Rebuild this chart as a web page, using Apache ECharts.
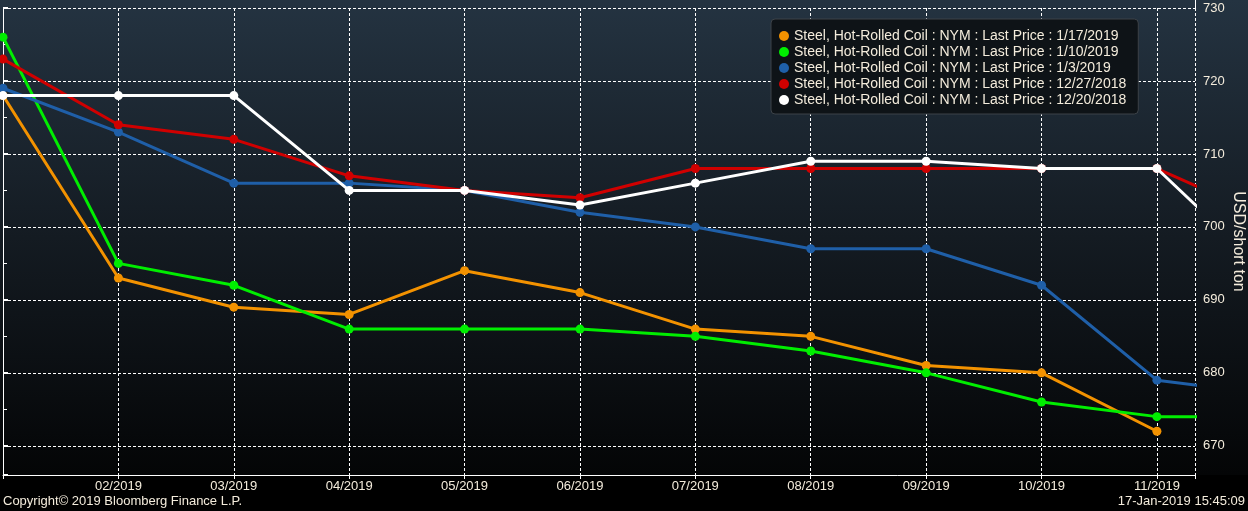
<!DOCTYPE html>
<html><head><meta charset="utf-8">
<script src="https://cdn.jsdelivr.net/npm/echarts@6/dist/echarts.min.js"></script>
<style>html,body{margin:0;padding:0;background:#000;}#c{width:1248px;height:511px;}</style>
</head><body><div id="c"></div>
<script>
// Month index 0 = 01/2019 ... 10 = 11/2019, 11 = 12/2019 (partially visible)
const months = ["01/2019","02/2019","03/2019","04/2019","05/2019","06/2019","07/2019","08/2019","09/2019","10/2019","11/2019","12/2019"];
const seriesNames = [
  "Steel, Hot-Rolled Coil : NYM : Last Price : 1/17/2019",
  "Steel, Hot-Rolled Coil : NYM : Last Price : 1/10/2019",
  "Steel, Hot-Rolled Coil : NYM : Last Price : 1/3/2019",
  "Steel, Hot-Rolled Coil : NYM : Last Price : 12/27/2018",
  "Steel, Hot-Rolled Coil : NYM : Last Price : 12/20/2018"
];
const seriesColors = ["#f39200", "#00ee00", "#1f5fa8", "#d00000", "#ffffff"];
const curve_0117 = [718, 693, 689, 688, 694, 691, 686, 685, 681, 680, 672];
const curve_0110 = [726, 695, 692, 686, 686, 686, 685, 683, 680, 676, 674, 674];
const curve_0103 = [719, 713, 706, 706, 705, 702, 700, 697, 697, 692, 679, 677];
const curve_1227 = [723, 714, 712, 707, 705, 704, 708, 708, 708, 708, 708, 701];
const curve_1220 = [718, 718, 718, 705, 705, 703, 706, 709, 709, 708, 708, 693];
const curves = [curve_0117, curve_0110, curve_0103, curve_1227, curve_1220];
const yTicks = [670, 680, 690, 700, 710, 720, 730];

const font = "Liberation Sans";
const textColor = '#f4ecdc';
const chart = echarts.init(document.getElementById('c'), null, {renderer: 'canvas'});
const option = {
  backgroundColor: '#000000',
  animation: false,
  textStyle: {fontFamily: font},
  graphic: [
    {type: 'rect', z: -10, silent: true, shape: {x: 0, y: 0, width: 1248, height: 475},
     style: {fill: new echarts.graphic.LinearGradient(0, 0, 0, 1, [
       {offset: 0, color: '#243341'}, {offset: 0.5, color: '#141b22'}, {offset: 1, color: '#040506'}])}},
    {type: 'line', silent: true, shape: {x1: 1195.5, y1: 0, x2: 1195.5, y2: 9}, style: {stroke: '#ffffff', lineWidth: 1}},
    {type: 'text', left: 3, top: 495, style: {text: 'Copyright\u00a9 2019 Bloomberg Finance L.P.', fill: textColor, font: '13px ' + font}},
    {type: 'text', right: 3, top: 495, style: {text: '17-Jan-2019 15:45:09', fill: textColor, font: '13px ' + font}}
  ],
  grid: {left: 3, right: 53, top: 8, bottom: 36, containLabel: false, outerBoundsMode: 'none'},
  legend: {
    orient: 'vertical', left: 771, top: 19,
    data: seriesNames,
    icon: 'circle', itemWidth: 10, itemHeight: 10, itemGap: 2,
    padding: [10, 12, 7, 8],
    backgroundColor: '#0e1317', borderColor: '#3c4248', borderWidth: 1, borderRadius: 4,
    textStyle: {color: textColor, fontSize: 14, fontFamily: font},
    selectedMode: false
  },
  xAxis: {
    type: 'value', min: 0, max: 10.33, interval: 1,
    axisLine: {show: true, lineStyle: {color: '#ffffff', width: 1}},
    axisTick: {show: true, length: 4, inside: false, lineStyle: {color: '#ffffff'}},
    axisLabel: {color: textColor, fontSize: 13, margin: 5,
      formatter: function (v) { return (Number.isInteger(v) && v > 0 && v < months.length) ? months[v] : ''; }},
    splitLine: {show: true, lineStyle: {color: '#ffffff', type: [3, 2], width: 1}}
  },
  yAxis: {
    type: 'value', position: 'right', min: 666, max: 730, splitNumber: 6, minInterval: 10, maxInterval: 10,
    name: 'USD/short ton', nameLocation: 'middle', nameRotate: -90, nameGap: 35, nameMoveOverlap: false,
    nameTextStyle: {color: textColor, fontSize: 16},
    axisLine: {show: true, lineStyle: {color: '#ffffff', width: 1}},
    axisTick: {show: true, length: 5, lineStyle: {color: '#ffffff', width: 2}},
    minorTick: {show: true, splitNumber: 2, length: 4, lineStyle: {color: '#ffffff'}},
    axisLabel: {color: textColor, fontSize: 13, margin: 8,
      formatter: function (v) { return yTicks.indexOf(v) >= 0 ? String(v) : ''; }},
    splitLine: {show: true, lineStyle: {color: '#ffffff', type: [3, 2], width: 1}}
  },
  series: curves.map(function (arr, i) {
    return {
      name: seriesNames[i], type: 'line', clip: true,
      data: arr.map(function (v, k) { return [k, v]; }),
      symbol: 'circle', symbolSize: 9,
      lineStyle: {color: seriesColors[i], width: 3},
      itemStyle: {color: seriesColors[i]},
      z: 2 + i
    };
  })
};
chart.setOption(option);
</script></body></html>
